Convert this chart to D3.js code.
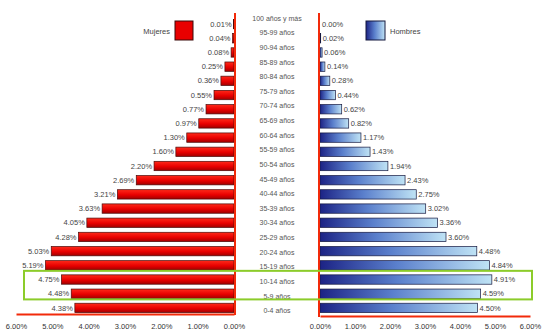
<!DOCTYPE html>
<html>
<head>
<meta charset="utf-8">
<script src="https://cdn.jsdelivr.net/npm/d3@7/dist/d3.min.js"></script>
<style>
  html, body { margin: 0; padding: 0; background: #fff; }
  svg { display: block; font-family: "Liberation Sans", Arial, sans-serif; }
</style>
</head>
<body>
<svg id="chart" width="547" height="336"></svg>
<script>
// Age groups, oldest at the top
const ageGroups = ["100 años y más", "95-99 años", "90-94 años", "85-89 años", "80-84 años",
  "75-79 años", "70-74 años", "65-69 años", "60-64 años", "55-59 años", "50-54 años",
  "45-49 años", "40-44 años", "35-39 años", "30-34 años", "25-29 años", "20-24 años",
  "15-19 años", "10-14 años", "5-9 años", "0-4 años"];

// Share of total population (%)
const mujeres = [0.01, 0.04, 0.08, 0.25, 0.36, 0.55, 0.77, 0.97, 1.30, 1.60, 2.20,
  2.69, 3.21, 3.63, 4.05, 4.28, 5.03, 5.19, 4.75, 4.48, 4.38];
const hombres = [0.00, 0.02, 0.06, 0.14, 0.28, 0.44, 0.62, 0.82, 1.17, 1.43, 1.94,
  2.43, 2.75, 3.02, 3.36, 3.60, 4.48, 4.84, 4.91, 4.59, 4.50];

const axisTicks = [0, 1, 2, 3, 4, 5, 6];
const highlighted = ["10-14 años", "5-9 años"];
const legendLabels = ["Mujeres", "Hombres"];

const svg = d3.select("#chart");
const fmt = v => d3.format(".2f")(v) + "%";

// Scales
const xLeft = d3.scaleLinear().domain([0, 6]).range([234, 16]);
const xRight = d3.scaleLinear().domain([0, 6]).range([320, 530]);
const y = d3.scaleBand().domain(ageGroups).range([16, 316]).paddingInner(0.34).paddingOuter(0.24);
const yLab = d3.scaleBand().domain(ageGroups).range([11, 318]);
const axisY = 314;

// Gradients
const defs = svg.append("defs");
const gRed = defs.append("linearGradient").attr("id", "gRed")
  .attr("x1", 0).attr("y1", 0).attr("x2", 0).attr("y2", 1);
gRed.append("stop").attr("offset", "0%").attr("stop-color", "#ff2a1a");
gRed.append("stop").attr("offset", "55%").attr("stop-color", "#e80000");
gRed.append("stop").attr("offset", "100%").attr("stop-color", "#a00000");
const gBlue = defs.append("linearGradient").attr("id", "gBlue")
  .attr("x1", 0).attr("y1", 0).attr("x2", 1).attr("y2", 0);
gBlue.append("stop").attr("offset", "0%").attr("stop-color", "#1c2385");
gBlue.append("stop").attr("offset", "45%").attr("stop-color", "#5a7fcc");
gBlue.append("stop").attr("offset", "100%").attr("stop-color", "#bfe3f5");

// Women (left)
svg.append("g").selectAll("rect").data(mujeres).join("rect")
  .attr("x", d => xLeft(d))
  .attr("y", (d, i) => y(ageGroups[i]))
  .attr("width", d => xLeft(0) - xLeft(d))
  .attr("height", y.bandwidth())
  .attr("fill", "url(#gRed)")
  .attr("stroke", "#4a0a0a").attr("stroke-width", 0.7);

svg.append("g").selectAll("text").data(mujeres).join("text")
  .attr("x", d => xLeft(d) - 2)
  .attr("y", (d, i) => y(ageGroups[i]) + y.bandwidth() / 2)
  .attr("dy", "0.35em")
  .attr("text-anchor", "end")
  .attr("font-size", 7.5).attr("fill", "#444")
  .text(fmt);

// Men (right)
svg.append("g").selectAll("rect").data(hombres).join("rect")
  .attr("x", xRight(0))
  .attr("y", (d, i) => y(ageGroups[i]))
  .attr("width", d => xRight(d) - xRight(0))
  .attr("height", y.bandwidth())
  .attr("fill", "url(#gBlue)")
  .attr("stroke", "#15183f").attr("stroke-width", 0.7);

svg.append("g").selectAll("text").data(hombres).join("text")
  .attr("x", d => xRight(d) + 2)
  .attr("y", (d, i) => y(ageGroups[i]) + y.bandwidth() / 2)
  .attr("dy", "0.35em")
  .attr("font-size", 7.5).attr("fill", "#444")
  .text(fmt);

// Age labels in the middle column
svg.append("g").selectAll("text").data(ageGroups).join("text")
  .attr("x", 277)
  .attr("y", d => yLab(d) + yLab.bandwidth() / 2)
  .attr("dy", "0.35em")
  .attr("text-anchor", "middle")
  .attr("font-size", 7).attr("fill", "#555")
  .text(d => d);

// Bottom axes
function styleAxis(g) {
  g.select(".domain").attr("stroke", "#f22a0a").attr("stroke-width", 2);
  g.selectAll(".tick line").remove();
  g.selectAll(".tick text").attr("font-size", 7.5).attr("fill", "#333")
    .attr("font-family", "Liberation Sans, Arial, sans-serif");
}
svg.append("g").attr("transform", `translate(0,${axisY})`)
  .call(d3.axisBottom(xLeft).tickValues(axisTicks).tickFormat(fmt).tickSize(0).tickSizeOuter(0).tickPadding(10))
  .call(styleAxis);
svg.append("g").attr("transform", `translate(0,${axisY + 2})`)
  .call(d3.axisBottom(xRight).tickValues(axisTicks).tickFormat(fmt).tickSize(0).tickSizeOuter(0).tickPadding(8))
  .call(styleAxis);

// Zero lines
svg.append("line").attr("x1", xLeft(0) + 1).attr("x2", xLeft(0) + 1)
  .attr("y1", 13).attr("y2", axisY + 1)
  .attr("stroke", "#f22a0a").attr("stroke-width", 2);
svg.append("line").attr("x1", xRight(0) - 1).attr("x2", xRight(0) - 1)
  .attr("y1", 13).attr("y2", axisY + 3)
  .attr("stroke", "#f22a0a").attr("stroke-width", 2);

// Highlight box around selected age groups
const hTop = y(highlighted[0]) - 4;
const hBot = y(highlighted[highlighted.length - 1]) + y.bandwidth() + 1;
svg.append("rect")
  .attr("x", 24).attr("y", hTop)
  .attr("width", 508).attr("height", hBot - hTop)
  .attr("fill", "none").attr("stroke", "#8ccc2a").attr("stroke-width", 2);

// Legends
svg.append("rect").attr("x", 175).attr("y", 21).attr("width", 18).attr("height", 19)
  .attr("fill", "#e80000").attr("stroke", "#3a0a0a").attr("stroke-width", 1);
svg.append("text").attr("x", 170).attr("y", 31).attr("dy", "0.35em")
  .attr("text-anchor", "end").attr("font-size", 7.5).attr("fill", "#444")
  .text(legendLabels[0]);
svg.append("rect").attr("x", 366).attr("y", 21).attr("width", 19).attr("height", 19)
  .attr("fill", "url(#gBlue)").attr("stroke", "#15183f").attr("stroke-width", 1);
svg.append("text").attr("x", 390).attr("y", 31).attr("dy", "0.35em")
  .attr("font-size", 7.5).attr("fill", "#444")
  .text(legendLabels[1]);
</script>
</body>
</html>
